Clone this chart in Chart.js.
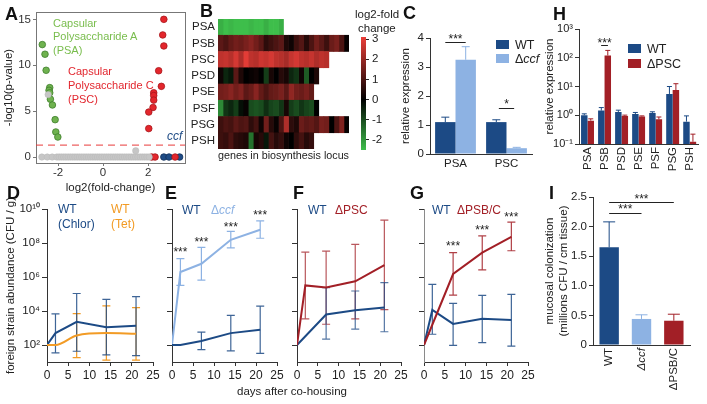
<!DOCTYPE html>
<html>
<head>
<meta charset="utf-8">
<script src="https://cdn.jsdelivr.net/npm/chart.js@4.4.1/dist/chart.umd.min.js"></script>
<style>
  body { margin: 0; background: #fff; }
  #fig { position: relative; width: 707px; height: 404px; overflow: hidden;
         font-family: 'Liberation Sans', Arial, sans-serif; color: #222; }
  #fig canvas { position: absolute; }
  .t { position: absolute; white-space: nowrap; font-size: 12px; line-height: 1; transform: translateY(-50%); }
  .lbl { font-weight: bold; font-size: 18px; color: #111; }
  .sq { position: absolute; width: 13px; height: 9px; }
</style>
</head>
<body>
<div id="fig"></div>
<script>
// ---------- data ----------
// A: volcano plot (log2 fold change, -log10 p)
const grayX = [-2.72,-2.48,-2.26,-2.05,-1.95,-1.85,-1.75,-1.65,-1.55,-1.45,-1.35,-1.25,-1.15,-1.05,-0.95,-0.85,-0.75,-0.65,-0.55,-0.45,-0.35,-0.25,-0.15,-0.05,0.05,0.15,0.25,0.35,0.45,0.55,0.65,0.75,0.85,0.95,1.05,1.15,1.25,1.35,1.45,1.55,1.65,1.75,1.85,1.95,2.05,1.45,-2.44];
const grayY = [0,0,0,0,0,0,0,0,0,0,0,0,0,0,0,0,0,0,0,0,0,0,0,0,0,0,0,0,0,0,0,0,0,0,0,0,0,0,0,0,0,0,0,0,0,0.68,6.8];
const psaX = [-2.70,-2.58,-2.53,-2.37,-2.40,-2.37,-2.34,-2.25,-2.13,-2.10,-2.01];
const psaY = [12.25,11.2,9.45,7.56,7.27,7.0,6.3,5.67,4.07,2.73,2.18];
const pscX = [2.70,2.65,2.70,2.47,2.59,2.25,2.25,2.25,2.22,2.03,2.03,2.16,2.31,3.2];
const pscY = [15.0,13.3,12.1,9.4,7.7,7.0,6.7,6.2,5.4,4.9,3.1,0,0,0];
const ccfX = [2.70,2.93,3.40];
const ccfY = [0,0,0];
const pThresh = 1.3;
const volcXTicks = [-2, 0, 2];
const volcYTicks = [0, 5, 10, 15];

// B: heatmap, log2 fold change per gene in each locus
const loci = ['PSA','PSB','PSC','PSD','PSE','PSF','PSG','PSH'];
const heatRows = [
  [-2.3,-2.5,-2.4,-2.5,-2.6,-2.5,-2.4,-2.5,-2.5,-2.3,-2.6,-2.5,-2.3],
  [1.2,1.0,1.3,1.5,1.4,1.6,1.8,1.5,1.2,0.6,0.8,1.0,1.2,0.4,0.2,0.8,1.1,0.5,1.0,1.5,1.2,0.8,1.4,1.6,1.0,0.1],
  [2.5,2.6,2.4,2.8,2.3,3.0,2.5,2.4,2.7,2.6,2.8,2.5,2.4,2.2,2.6,2.8,2.5,2.4,2.6,2.3,2.5,2.4],
  [0.2,-0.5,-0.3,1.2,0.4,0.0,0.1,0.2,0.0,-0.8,0.3,0.0,0.5,0.3,-0.5,-0.7,0.2,-1.2,0.0,0.4],
  [1.5,1.6,1.8,1.5,1.7,1.2,1.4,1.8,1.3,1.0,1.3,1.4,1.6,1.2,1.9,1.5,1.4,1.6,1.3],
  [-1.8,-0.7,-0.5,-0.8,-0.2,0.1,-1.0,-1.1,-1.0,-0.6,-0.9,-1.0,-0.7,0.3,-0.8,-1.0,-0.7,-0.9,-1.0,0.0],
  [0.8,1.0,0.9,1.2,1.0,1.1,0.6,0.9,0.2,1.5,0.5,0.1,1.0,2.3,0.6,0.4,1.4,1.2,1.3,1.1,1.6,1.5,0.0,1.0,1.7,0.1],
  [0.8,0.7,1.0,0.6,0.5,0.4,-1.5,0.3,0.5,-0.3,0.9,0.5,0.7,0.2,0.0,0.6,0.9,0.5,0.7]
];
const cbMin = -2.5, cbMax = 3.1;
const cbTicks = [-2,-1,0,1,2,3];

// C: qPCR PSA / PSC
const cCats = ['PSA','PSC'];
const cWT = [1.1, 1.1], cWTerr = [0.17, 0.08];
const cCcf = [3.25, 0.2], cCcfErr = [0.45, 0.03];

// H: qPCR loci in dPSC
const hCats = ['PSA','PSB','PSD','PSE','PSF','PSG','PSH'];
const hWT = [1.0, 1.45, 1.3, 1.1, 1.2, 5.5, 0.6];
const hWTerr = [0.12, 0.4, 0.2, 0.15, 0.12, 4.5, 0.35];
const hPSC = [0.65, 120, 0.95, 0.9, 0.72, 7.5, 0.12];
const hPSCerr = [0.1, 60, 0.06, 0.05, 0.15, 5, 0.1];
const logTicksH = [0.1, 1, 10, 100, 1000];

// D-G: foreign strain abundance over time (CFU/g)
const logTicksCFU = [1e2, 1e4, 1e6, 1e8, 1e10];
const dDays = [0, 2, 7, 14, 21];
const dChlor = [100, 500, 2300, 1100, 1350];
const dChlorLo = [null, 34, 43, 26, 24];
const dChlorHi = [null, 6700, 1.07e5, 4.8e4, 7e4];
const dTet = [100, 100, 365, 500, 460];
const dTetLo = [null, null, 18, 13, 13];
const dTetHi = [null, null, 7000, 2e4, 1.6e4];

const eDays = [0, 2, 7, 14, 21];
const eWT = [100, 100, 170, 500, 780];
const eWTlo = [null, null, 54, 45, 32];
const eWThi = [null, null, 575, 5600, 1.95e4];
const eCcf = [100, 1.95e6, 6.0e6, 1.55e8, 6.0e8];
const eCcfLo = [null, 3.2e5, 6.5e5, 5.1e7, 1.9e8];
const eCcfHi = [null, 1.2e7, 5.6e7, 4.8e8, 2.0e9];
const eStarDays = [2, 7, 14, 21];
const eStarY = [3.9e7, 1.5e8, 1.26e9, 5.8e9];

const fDaysWT = [0, 7, 14, 21];
const fWT = [100, 6200, 1.1e4, 1.6e4];
const fWTlo = [null, 220, 850, 600];
const fWThi = [null, 2.4e5, 1.5e5, 4.7e5];
const fDaysPSC = [0, 2, 7, 14, 21];
const fPSC = [100, 3.2e5, 2.4e5, 5.6e5, 5e6];
const fPSClo = [null, 3400, 1660, 3400, 1.2e4];
const fPSChi = [null, 2.9e7, 3.3e7, 8.3e7, 2.2e9];

const gDaysWT = [0, 2, 7, 14, 21];
const gWT = [100, 1.15e4, 1750, 3500, 3000];
const gWTlo = [null, 430, 95, 138, 87];
const gWThi = [null, 3.7e5, 2.8e4, 8.3e4, 9.5e4];
const gDaysPSBC = [0, 7, 14, 21];
const gPSBC = [100, 1.5e6, 2.7e7, 2.3e8];
const gPSBClo = [null, 8.7e4, 2.6e6, 3.5e7];
const gPSBChi = [null, 2.7e7, 2.6e8, 1.7e9];
const gStarDays = [7, 14, 21];
const gStarY = [8.7e7, 7.6e8, 4.5e9];

// I: mucosal colonization
const iCats = ['WT', 'Δccf', 'ΔPSB/C'];
const iVals = [1.65, 0.44, 0.41];
const iErr = [0.43, 0.07, 0.11];

// ---------- colours ----------
const C_WT = '#1c4a85';
const C_CCF = '#8db2e3';
const C_PSC = '#a21f26';
const C_TET = '#f29b25';

// ---------- chart defaults ----------
Chart.defaults.font.family = "'Liberation Sans', Arial, sans-serif";
Chart.defaults.font.size = 11;
Chart.defaults.color = '#222';
Chart.defaults.animation = false;
Chart.defaults.responsive = false;
Chart.defaults.devicePixelRatio = 1;
Chart.defaults.plugins.legend.display = false;
Chart.defaults.plugins.tooltip.enabled = false;

// error bars: ds.errHi (and optional ds.errLo) in data units
Chart.register({
  id: 'errbars',
  beforeDatasetsDraw(chart) { drawErr(chart, true); },
  afterDatasetsDraw(chart) { drawErr(chart, false); }
});
function drawErr(chart, behind) {
  const ctx = chart.ctx;
  chart.data.datasets.forEach((ds, i) => {
    if (!ds.errHi || !!ds.errBehind !== behind) return;
    const meta = chart.getDatasetMeta(i);
    const ys = chart.scales[meta.yAxisID];
    ctx.save();
    ctx.lineWidth = ds.errWidth || 1;
    meta.data.forEach((el, j) => {
      const hi = ds.errHi[j];
      if (hi == null) return;
      const lo = ds.errLo ? ds.errLo[j] : null;
      const x = el.x, cap = ds.cap || 4;
      const yT = ys.getPixelForValue(hi);
      const yB = lo == null ? el.y : ys.getPixelForValue(lo);
      ctx.strokeStyle = Array.isArray(ds.errColor) ? ds.errColor[j] : (ds.errColor || ds.borderColor);
      ctx.beginPath();
      ctx.moveTo(x, yT); ctx.lineTo(x, yB);
      ctx.moveTo(x - cap, yT); ctx.lineTo(x + cap, yT);
      if (lo != null) { ctx.moveTo(x - cap, yB); ctx.lineTo(x + cap, yB); }
      ctx.stroke();
    });
    ctx.restore();
  });
}

// significance bars / stars, in data units
function notes(lines, texts) {
  return {
    id: 'notes',
    afterDatasetsDraw(chart) {
      const { ctx, scales: { x, y } } = chart;
      ctx.save();
      ctx.strokeStyle = '#222';
      ctx.lineWidth = 1;
      lines.forEach(l => {
        const py = Math.round(y.getPixelForValue(l.y)) + 0.5;
        ctx.beginPath();
        ctx.moveTo(x.getPixelForValue(l.x1), py);
        ctx.lineTo(x.getPixelForValue(l.x2), py);
        ctx.stroke();
      });
      ctx.fillStyle = '#222';
      ctx.font = "12px 'Liberation Sans', Arial, sans-serif";
      ctx.textAlign = 'center';
      ctx.textBaseline = 'middle';
      texts.forEach(t => ctx.fillText(t.t, x.getPixelForValue(t.x), y.getPixelForValue(t.y) + 3));
      ctx.restore();
    }
  };
}

const SUP = { '-': '⁻', '0': '⁰', '1': '¹', '2': '²', '3': '³', '4': '⁴', '5': '⁵', '6': '⁶', '7': '⁷', '8': '⁸', '9': '⁹' };
const pow10 = v => '10' + String(Math.round(Math.log10(v))).split('').map(c => SUP[c]).join('');
const setTicks = vals => s => { s.ticks = vals.map(v => ({ value: v })); };
const fixW = w => s => { s.width = w; };
const fixH = h => s => { s.height = h; };

// ---------- helpers ----------
const fig = document.getElementById('fig');
function makeCanvas(left, top, w, h) {
  const c = document.createElement('canvas');
  c.width = w; c.height = h;
  c.style.left = left + 'px'; c.style.top = top + 'px';
  c.style.width = w + 'px'; c.style.height = h + 'px';
  fig.appendChild(c);
  return c;
}
function text(html, left, top, css) {
  const d = document.createElement('div');
  d.className = 't';
  d.innerHTML = html;
  d.style.left = left + 'px';
  d.style.top = top + 'px';
  if (css) d.style.cssText += css;
  fig.appendChild(d);
  return d;
}
function heat(v) {
  if (v >= 0) {
    const t = Math.min(v / 3.1, 1);
    return `rgb(${Math.round(235 * t)},${Math.round(62 * t)},${Math.round(56 * t)})`;
  }
  const t = Math.min(-v / 2.5, 1);
  return `rgb(${Math.round(62 * t)},${Math.round(190 * t)},${Math.round(75 * t)})`;
}
const darkAxis = { display: true, color: '#333', width: 1 };
const tickMarks = (len) => ({ display: true, drawOnChartArea: false, drawTicks: true, tickLength: len, color: '#333' });

// ---------- A: volcano ----------
new Chart(makeCanvas(0, 0, 195, 200), {
  type: 'scatter',
  data: {
    datasets: [
      { data: grayX.map((x, i) => ({ x, y: grayY[i] })), backgroundColor: '#c6c6c6', borderColor: '#b8b8b8', borderWidth: 0.5, pointRadius: 3.2 },
      { data: psaX.map((x, i) => ({ x, y: psaY[i] })), backgroundColor: '#6fb24f', borderColor: '#3f7f2c', borderWidth: 0.8, pointRadius: 3.3 },
      { data: pscX.map((x, i) => ({ x, y: pscY[i] })), backgroundColor: '#e3262c', borderColor: '#a8171c', borderWidth: 0.8, pointRadius: 3.3 },
      { data: ccfX.map((x, i) => ({ x, y: ccfY[i] })), backgroundColor: '#1f4c86', borderColor: '#12305a', borderWidth: 0.8, pointRadius: 3.3 }
    ]
  },
  options: {
    layout: { padding: { left: 0, top: 12, right: 10, bottom: 5 } },
    scales: {
      x: {
        type: 'linear', min: -2.98, max: 3.64,
        afterBuildTicks: setTicks(volcXTicks), afterFit: fixH(32),
        grid: { display: true, drawOnChartArea: false, tickLength: 3, color: '#777' },
        border: { display: true, color: '#777' },
        ticks: { display: false },
        title: { display: true, text: 'log2(fold-change)', padding: 0, font: { size: 11.5 }, color: '#222' }
      },
      y: {
        min: -0.65, max: 15.8,
        afterBuildTicks: setTicks(volcYTicks), afterFit: fixW(36),
        grid: { display: true, drawOnChartArea: false, tickLength: 3, color: '#777' },
        border: { display: true, color: '#777' },
        ticks: { padding: 2, color: '#333', autoSkip: false, font: { size: 11.5 }, callback: v => String(v) },
        title: { display: true, text: '-log10(p-value)', padding: { top: 2, bottom: 0 }, font: { size: 11.5 }, color: '#222' }
      }
    }
  },
  plugins: [{
    id: 'box',
    beforeDatasetsDraw(chart) {
      const { ctx, chartArea: a, scales: { y } } = chart;
      ctx.save();
      ctx.strokeStyle = '#777'; ctx.lineWidth = 1;
      ctx.strokeRect(a.left + 0.5, a.top + 0.5, a.width, a.height);
      const py = y.getPixelForValue(pThresh);
      ctx.strokeStyle = '#e8393a'; ctx.setLineDash([7, 5]);
      ctx.beginPath(); ctx.moveTo(a.left, py); ctx.lineTo(a.right, py); ctx.stroke();
      ctx.restore();
    },
    afterDraw(chart) {
      // x tick labels placed from the x scale
      const { ctx, chartArea: a, scales: { x } } = chart;
      ctx.save();
      ctx.fillStyle = '#333';
      ctx.font = "11.5px 'Liberation Sans', Arial, sans-serif";
      ctx.textAlign = 'center';
      ctx.textBaseline = 'middle';
      volcXTicks.forEach(v => ctx.fillText(String(v), x.getPixelForValue(v), a.bottom + 10));
      ctx.restore();
    }
  }]
});

// ---------- B: heatmap ----------
const nGenes = Math.max(...heatRows.map(r => r.length));
const heatSets = [];
for (let k = 0; k < nGenes; k++) {
  heatSets.push({
    data: heatRows.map(r => (k < r.length ? 1 : null)),
    backgroundColor: heatRows.map(r => heat(k < r.length ? r[k] : 0)),
    borderWidth: 0, barPercentage: 1, categoryPercentage: 1
  });
}
new Chart(makeCanvas(185, 0, 175, 170), {
  type: 'bar',
  data: { labels: loci, datasets: heatSets },
  options: {
    indexAxis: 'y',
    layout: { padding: { left: 0, top: 19, right: 11, bottom: 7 } },
    scales: {
      x: {
        stacked: true, min: 0, max: nGenes, afterFit: fixH(14),
        grid: { display: false, drawTicks: false }, border: { display: false },
        ticks: { display: false },
        title: { display: true, text: 'genes in biosynthesis locus', align: 'start', padding: 0, font: { size: 11.5 } }
      },
      y: {
        stacked: true, afterFit: fixW(33),
        grid: { display: false, drawTicks: false }, border: { display: false },
        ticks: { padding: 3, autoSkip: false, font: { size: 11.5 } }
      }
    }
  }
});

// colour bar
new Chart(makeCanvas(350, 0, 45, 160), {
  type: 'bar',
  data: {
    labels: [''],
    datasets: [{
      data: [[cbMin, cbMax]], barPercentage: 1, categoryPercentage: 1,
      backgroundColor: c => {
        const ch = c.chart, ys = ch.scales.y;
        if (!ch.chartArea || !ys) return '#000';
        const g = ch.ctx.createLinearGradient(0, ys.getPixelForValue(cbMin), 0, ys.getPixelForValue(cbMax));
        g.addColorStop(0, heat(cbMin));
        g.addColorStop((0 - cbMin) / (cbMax - cbMin), heat(0));
        g.addColorStop(1, heat(cbMax));
        return g;
      }
    }]
  },
  options: {
    layout: { padding: { left: 11, top: 37, right: 0, bottom: 10 } },
    scales: {
      x: { display: false },
      y: {
        position: 'right', min: cbMin, max: cbMax,
        afterBuildTicks: setTicks(cbTicks), afterFit: fixW(29),
        grid: { display: true, drawOnChartArea: false, tickLength: 3, color: '#222' },
        border: { display: false },
        ticks: { padding: 3, font: { size: 11.5 } }
      }
    }
  }
});

// ---------- C: PSA / PSC expression ----------
new Chart(makeCanvas(375, 0, 160, 175), {
  type: 'bar',
  data: {
    labels: cCats,
    datasets: [
      { data: cWT, backgroundColor: C_WT, errHi: cWT.map((v, i) => v + cWTerr[i]), errColor: C_WT, cap: 4 },
      { data: cCcf, backgroundColor: C_CCF, errHi: cCcf.map((v, i) => v + cCcfErr[i]), errColor: C_CCF, cap: 4 }
    ]
  },
  options: {
    datasets: { bar: { categoryPercentage: 0.8, barPercentage: 1 } },
    layout: { padding: { left: 22, top: 38, right: 3, bottom: 0 } },
    scales: {
      x: {
        afterFit: fixH(21),
        grid: { display: false, drawTicks: false }, border: darkAxis,
        ticks: { padding: 3, font: { size: 11.5 } }
      },
      y: {
        min: 0, max: 4, ticks: { stepSize: 1, padding: 2, font: { size: 11.5 } },
        afterFit: fixW(33),
        grid: tickMarks(4), border: darkAxis,
        title: { display: true, text: 'relative expression', padding: { top: 2, bottom: 0 }, font: { size: 11.5 } }
      }
    }
  },
  plugins: [notes(
    [{ x1: -0.2, x2: 0.2, y: 3.85 }, { x1: 0.85, x2: 1.15, y: 1.6 }],
    [{ t: '***', x: 0, y: 4.05 }, { t: '*', x: 1, y: 1.8 }]
  )]
});

// ---------- H: loci expression in dPSC ----------
new Chart(makeCanvas(535, 0, 172, 200), {
  type: 'bar',
  data: {
    labels: hCats,
    datasets: [
      { data: hWT, backgroundColor: C_WT, errHi: hWT.map((v, i) => v + hWTerr[i]), errColor: C_WT, cap: 2.5 },
      { data: hPSC, backgroundColor: C_PSC, errHi: hPSC.map((v, i) => v + hPSCerr[i]), errColor: C_PSC, cap: 2.5 }
    ]
  },
  options: {
    datasets: { bar: { categoryPercentage: 0.76, barPercentage: 1 } },
    layout: { padding: { left: 6, top: 29, right: 7, bottom: 0 } },
    scales: {
      x: {
        afterFit: fixH(56),
        grid: { display: false, drawTicks: false }, border: darkAxis,
        ticks: { padding: 3, minRotation: 90, maxRotation: 90, autoSkip: false, font: { size: 11.5 } }
      },
      y: {
        type: 'logarithmic', min: 0.1, max: 1000,
        afterBuildTicks: setTicks(logTicksH), afterFit: fixW(38),
        ticks: { padding: 2, font: { size: 11 }, callback: v => pow10(v) },
        grid: tickMarks(4), border: darkAxis,
        title: { display: true, text: 'relative expression', padding: { top: 2, bottom: 0 }, font: { size: 11.5 } }
      }
    }
  },
  plugins: [notes([{ x1: 0.8, x2: 1.2, y: 280 }], [{ t: '***', x: 1, y: 380 }])]
});

// ---------- D-G: abundance over time ----------
function pts(days, vals) { return days.map((d, i) => ({ x: d, y: vals[i] })); }
function lineSet(days, vals, lo, hi, color, errColor, extra) {
  return Object.assign({
    data: pts(days, vals), borderColor: color, borderWidth: 2, pointRadius: 0, tension: 0,
    errLo: lo, errHi: hi, errColor: errColor, errBehind: true, errWidth: 1.2, cap: 4
  }, extra || {});
}
function timeChart(left, w, yW, padLeft, datasets, showLabels, yTitle, yBorder, extraPlugins) {
  return new Chart(makeCanvas(left, 195, w, 209), {
    type: 'line',
    data: { datasets },
    options: {
      layout: { padding: { left: padLeft, top: 14, right: 9, bottom: 0 } },
      scales: {
        x: {
          type: 'linear', min: 0, max: 25, ticks: { stepSize: 5, padding: 2, font: { size: 12 } },
          afterFit: fixH(42),
          grid: tickMarks(4), border: darkAxis
        },
        y: {
          type: 'logarithmic', min: 10, max: 1e10,
          afterBuildTicks: setTicks(logTicksCFU), afterFit: fixW(yW),
          ticks: { display: showLabels, padding: 2, font: { size: 11.5 }, callback: v => pow10(v) },
          grid: tickMarks(5), border: { display: true, color: yBorder, width: 1 },
          title: { display: !!yTitle, text: yTitle || '', padding: { top: 2, bottom: 0 }, font: { size: 11.5 } }
        }
      }
    },
    plugins: extraPlugins || []
  });
}

timeChart(0, 162, 45, 2, [
  lineSet(dDays, dTet, dTetLo, dTetHi, C_TET, C_TET, { cubicInterpolationMode: 'monotone' }),
  lineSet(dDays, dChlor, dChlorLo, dChlorHi, C_WT, 'rgba(28,74,133,0.85)')
], true, 'foreign strain abundance (CFU / g)', '#333');

timeChart(160, 126, 12, 0, [
  lineSet(eDays, eWT, eWTlo, eWThi, C_WT, 'rgba(28,74,133,0.85)'),
  lineSet(eDays, eCcf, eCcfLo, eCcfHi, C_CCF, C_CCF)
], false, null, '#333', [notes([], eStarDays.map((d, i) => ({ t: '***', x: d, y: eStarY[i] })))]);

timeChart(285, 125, 12, 0, [
  lineSet(fDaysPSC, fPSC, fPSClo, fPSChi, C_PSC, 'rgba(162,31,38,0.75)'),
  lineSet(fDaysWT, fWT, fWTlo, fWThi, C_WT, 'rgba(28,74,133,0.75)')
], false, null, '#333');

timeChart(412, 125, 12, 0, [
  lineSet(gDaysPSBC, gPSBC, gPSBClo, gPSBChi, C_PSC, 'rgba(162,31,38,0.85)'),
  lineSet(gDaysWT, gWT, gWTlo, gWThi, C_WT, 'rgba(28,74,133,0.85)')
], false, null, '#8a8a8a', [notes([], gStarDays.map((d, i) => ({ t: '***', x: d, y: gStarY[i] })))]);

// ---------- I: mucosal colonization ----------
new Chart(makeCanvas(535, 185, 172, 219), {
  type: 'bar',
  data: {
    labels: iCats,
    datasets: [{
      data: iVals, backgroundColor: [C_WT, C_CCF, C_PSC],
      errHi: iVals.map((v, i) => v + iErr[i]), errColor: [C_WT, C_CCF, C_PSC], cap: 6,
      barPercentage: 0.6, categoryPercentage: 1
    }]
  },
  options: {
    layout: { padding: { left: 6, top: 12, right: 17, bottom: 0 } },
    scales: {
      x: {
        afterFit: fixH(59),
        grid: { display: false, drawTicks: false }, border: darkAxis,
        ticks: {
          padding: 3, minRotation: 90, maxRotation: 90, autoSkip: false,
          font: c => (c.index === 1 ? { size: 11.5, style: 'italic' } : { size: 11.5 })
        }
      },
      y: {
        min: 0, max: 2.5, afterFit: fixW(52),
        ticks: { stepSize: 0.5, padding: 2, font: { size: 11.5 }, callback: v => (v === 0 ? '0' : v.toFixed(1)) },
        grid: tickMarks(4), border: darkAxis,
        title: { display: true, text: ['mucosal colonization', '(millions CFU / cm tissue)'], padding: { top: 2, bottom: 0 }, font: { size: 11.5 } }
      }
    }
  },
  plugins: [notes(
    [{ x1: 0, x2: 2, y: 2.415 }, { x1: 0, x2: 1, y: 2.23 }],
    [{ t: '***', x: 1, y: 2.5 }, { t: '***', x: 0.5, y: 2.33 }]
  )]
});

// ---------- text overlays ----------
[['A', 5, 14], ['B', 200, 11], ['C', 403, 13], ['H', 553, 14],
 ['D', 7, 193], ['E', 165, 193], ['F', 293, 193], ['G', 410, 193], ['I', 549, 193]]
  .forEach(([s, x, y]) => text(s, x, y).classList.add('lbl'));

const gA = 'color:#79bd4d;font-size:11px;';
text('Capsular', 53, 23, gA);
text('Polysaccharide A', 53, 36, gA);
text('(PSA)', 53, 50, gA);
const rA = 'color:#e2262e;font-size:11px;';
text('Capsular', 68, 71, rA);
text('Polysaccharide C', 68, 85, rA);
text('(PSC)', 68, 99, rA);
text('<i>ccf</i>', 167, 136, 'color:#1f4c86;font-size:12px;');

text('log2-fold', 355, 15, 'font-size:11.5px;');
text('change', 358, 29, 'font-size:11.5px;');

// legends C / H
function legendItem(x, y, color, html) {
  const s = document.createElement('div');
  s.className = 'sq';
  s.style.left = x + 'px'; s.style.top = (y - 5) + 'px'; s.style.background = color;
  fig.appendChild(s);
  text(html, x + 19, y, 'font-size:12.5px;');
}
legendItem(496, 45, C_WT, 'WT');
legendItem(496, 59, C_CCF, 'Δ<i>ccf</i>');
legendItem(628, 49, C_WT, 'WT');
legendItem(628, 64, C_PSC, 'ΔPSC');

// in-plot legends D-G
text('WT', 58, 209, 'color:' + C_WT);
text('(Chlor)', 58, 224, 'color:' + C_WT);
text('WT', 111, 209, 'color:' + C_TET);
text('(Tet)', 111, 224, 'color:' + C_TET);
text('WT', 182, 210, 'color:' + C_WT);
text('Δ<i>ccf</i>', 211, 210, 'color:' + C_CCF);
text('WT', 308, 210, 'color:' + C_WT);
text('ΔPSC', 335, 210, 'color:' + C_PSC);
text('WT', 432, 210, 'color:' + C_WT);
text('ΔPSB/C', 457, 210, 'color:' + C_PSC);

text('days after co-housing', 237, 392, 'font-size:11.5px;');
</script>
</body>
</html>
